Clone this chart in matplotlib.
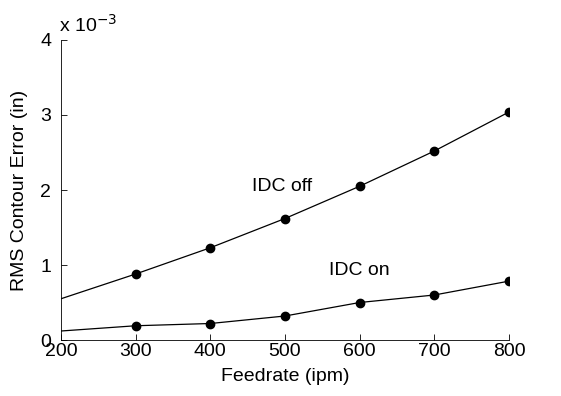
import matplotlib
matplotlib.use("Agg")
import matplotlib.pyplot as plt

plt.rcParams['font.family'] = ['Liberation Sans', 'DejaVu Sans']

# Feedrate (ipm) and RMS contour error (x 1e-3 in)
feedrate = [200, 300, 400, 500, 600, 700, 800]
err_idc_off = [0.55, 0.88, 1.23, 1.62, 2.05, 2.52, 3.04]
err_idc_on = [0.12, 0.19, 0.22, 0.32, 0.50, 0.60, 0.785]

xticks = [200, 300, 400, 500, 600, 700, 800]
yticks = [0, 1, 2, 3, 4]

fig = plt.figure(figsize=(5.61, 3.96), dpi=100)
ax = fig.add_axes([0.1087, 0.1414, 0.7986, 0.7576])

# first point (200) has no marker, as in the original
for ys in (err_idc_off, err_idc_on):
    ax.plot(feedrate, ys, color='black', linewidth=0.9, marker='o',
            markersize=6, markevery=list(range(1, len(feedrate))))

ax.text(456, 2.05, 'IDC off', fontsize=14, va='center', ha='left')
ax.text(559, 0.93, 'IDC on', fontsize=14, va='center', ha='left')

ax.set_xlim(200, 800)
ax.set_ylim(0, 4)
ax.set_xticks(xticks)
ax.set_yticks(yticks)
ax.tick_params(direction='in', length=4, width=0.6, labelsize=14)
ax.tick_params(axis='x', pad=2)
ax.tick_params(axis='y', pad=7)
ax.set_xlabel('Feedrate (ipm)', fontsize=14, labelpad=6)
ax.set_ylabel('RMS Contour Error (in)', fontsize=14, labelpad=9)
ax.text(-0.005, 1.015, 'x 10$^{-3}$', transform=ax.transAxes, fontsize=14,
        ha='left', va='bottom')

for side in ('top', 'right'):
    ax.spines[side].set_visible(False)
for side in ('left', 'bottom'):
    ax.spines[side].set_linewidth(0.6)

fig.savefig('out.png', dpi=100, facecolor='white')
